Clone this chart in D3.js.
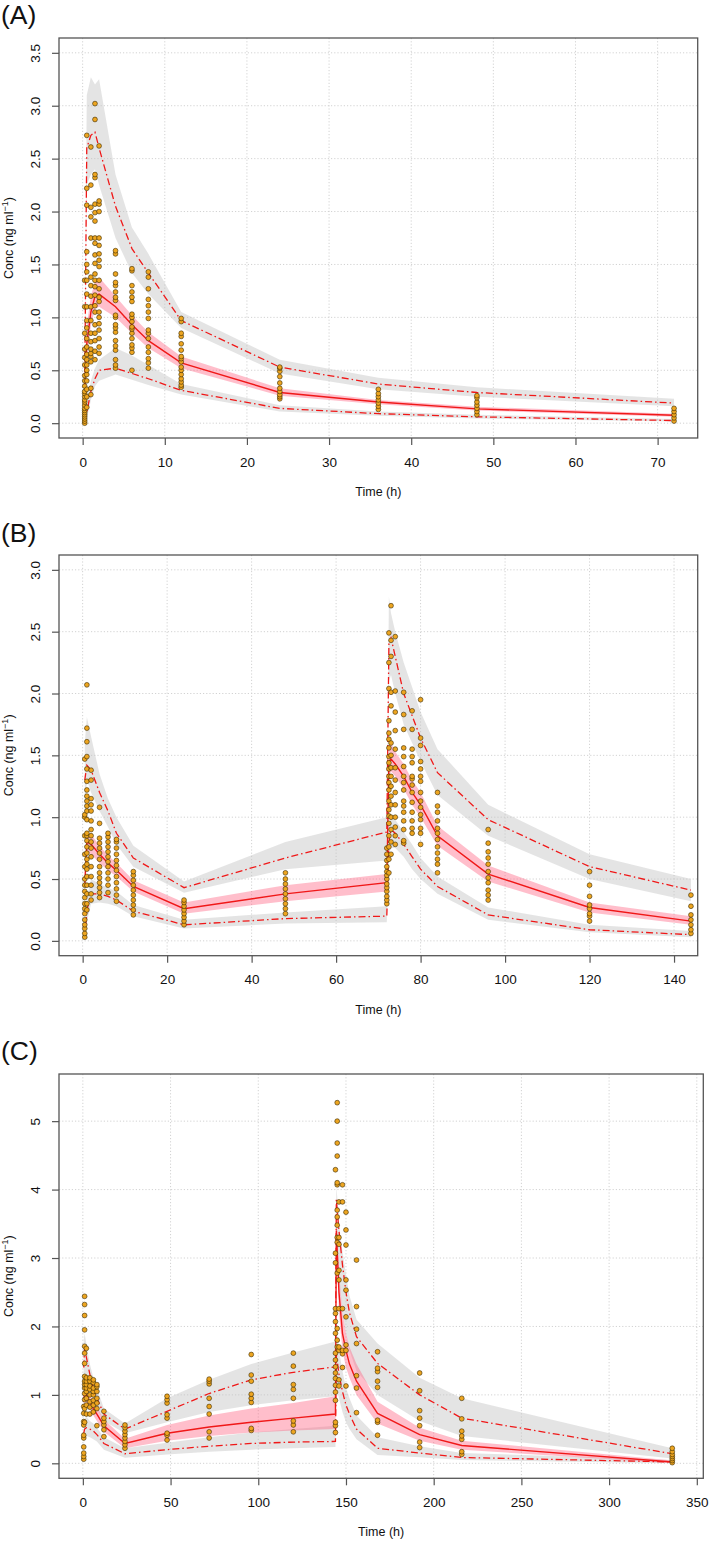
<!DOCTYPE html>
<html><head><meta charset="utf-8">
<script src="https://cdn.jsdelivr.net/npm/d3@7"></script>
<style>body{margin:0;background:#fff}svg{display:block}</style>
</head><body>
<script>
// ---------- Panel A data ----------
const tA = [0.25,0.5,1,1.5,2,4,6,8,12,24,36,48,72];
const medA    = [0.35,0.75,1.05,1.2,1.22,1.1,0.93,0.78,0.57,0.29,0.2,0.135,0.075];
const medA_lo = [0.22,0.58,0.92,1.08,1.1,1.0,0.85,0.71,0.52,0.26,0.18,0.12,0.06];
const medA_hi = [0.5,0.92,1.2,1.34,1.38,1.2,1.02,0.86,0.63,0.33,0.22,0.155,0.09];
const p95A    = [0.35,2.6,2.72,2.75,2.6,2.05,1.65,1.42,0.97,0.53,0.37,0.29,0.19];
const p95A_lo = [0.25,2.25,2.35,2.4,2.25,1.75,1.42,1.22,0.9,0.47,0.32,0.25,0.16];
const p95A_hi = [0.6,3.1,3.27,3.2,3.25,2.35,1.85,1.6,1.05,0.6,0.43,0.34,0.23];
const p05A    = [0.02,0.1,0.3,0.42,0.5,0.52,0.47,0.42,0.31,0.14,0.09,0.06,0.025];
const p05A_lo = [0.0,0.04,0.22,0.35,0.4,0.46,0.41,0.36,0.27,0.11,0.07,0.045,0.015];
const p05A_hi = [0.06,0.2,0.4,0.52,0.6,0.71,0.64,0.55,0.37,0.17,0.11,0.08,0.04];
const obsTimesA = [0.25,0.5,1,1.5,2,4,6,8,12,24,36,48,72];
const obsA = [
 [0.0,0.02,0.04,0.06,0.08,0.1,0.12,0.14,0.17,0.2,0.22,0.25,0.28,0.3,0.35,0.4,0.45,0.55,0.62,0.7,0.85,1.1,1.35],
 [0.15,0.25,0.32,0.4,0.46,0.5,0.55,0.6,0.65,0.72,0.8,0.9,0.97,1.1,1.22,1.35,1.43,1.5,1.62,2.06,2.22,2.72],
 [0.27,0.33,0.58,0.63,0.66,0.7,0.77,0.85,0.97,1.1,1.2,1.3,1.38,1.75,1.95,2.04,2.25,2.61],
 [0.6,0.68,0.78,0.85,0.93,1.05,1.11,1.21,1.29,1.35,1.41,1.51,1.59,1.7,1.75,1.91,1.99,2.07,2.32,2.35,2.87,3.02],
 [0.66,0.72,0.8,0.88,0.94,1.0,1.05,1.15,1.19,1.27,1.35,1.48,1.54,1.6,1.68,1.75,2.0,2.07,2.1,2.62],
 [0.52,0.55,0.6,0.69,0.73,0.78,0.86,0.9,0.93,1.0,1.02,1.16,1.19,1.24,1.3,1.33,1.41,1.6,1.63],
 [0.5,0.67,0.71,0.74,0.8,0.85,0.89,0.91,0.96,1.0,1.03,1.15,1.19,1.24,1.3,1.44,1.46],
 [0.52,0.57,0.61,0.67,0.72,0.8,0.85,0.88,0.99,1.05,1.11,1.17,1.27,1.38,1.43],
 [0.34,0.36,0.39,0.42,0.46,0.5,0.53,0.58,0.61,0.63,0.69,0.75,0.82,0.85,0.96,0.99],
 [0.23,0.25,0.27,0.3,0.33,0.38,0.44,0.49,0.52,0.53],
 [0.13,0.16,0.19,0.22,0.25,0.28,0.32],
 [0.08,0.11,0.14,0.17,0.2,0.24,0.26],
 [0.02,0.05,0.08,0.11,0.14]
];
const xTicksA = [0,10,20,30,40,50,60,70];
const yTicksA = [0,0.5,1,1.5,2,2.5,3,3.5];

// ---------- Panel B data ----------
const tB = [0.5,1,2,4,6,8,12,24,48,72,72.5,73,74,76,78,80,84,96,120,144];
const medB    = [0.45,0.8,0.78,0.7,0.63,0.57,0.44,0.26,0.38,0.47,1.45,1.47,1.43,1.33,1.2,1.1,0.85,0.54,0.27,0.16];
const medB_lo = [0.35,0.72,0.7,0.63,0.57,0.52,0.4,0.22,0.32,0.4,1.32,1.37,1.33,1.23,1.1,1.0,0.77,0.48,0.23,0.13];
const medB_hi = [0.55,0.88,0.86,0.77,0.69,0.63,0.49,0.31,0.45,0.54,1.58,1.6,1.53,1.43,1.3,1.2,0.93,0.61,0.31,0.2];
const p95B    = [1.3,1.42,1.38,1.2,1.05,0.87,0.67,0.43,0.67,0.88,2.4,2.45,2.3,2.0,1.82,1.64,1.36,0.98,0.6,0.41];
const p95B_lo = [1.0,1.3,1.2,1.05,0.92,0.78,0.6,0.39,0.58,0.65,2.1,2.15,2.0,1.75,1.6,1.45,1.18,0.85,0.5,0.32];
const p95B_hi = [1.6,1.81,1.65,1.35,1.15,1.0,0.77,0.48,0.8,1.0,2.78,2.65,2.5,2.25,2.05,1.85,1.55,1.1,0.7,0.5];
const p05B    = [0.02,0.25,0.38,0.38,0.36,0.33,0.24,0.13,0.18,0.2,0.8,0.9,0.87,0.78,0.68,0.58,0.44,0.21,0.09,0.05];
const p05B_lo = [0.0,0.15,0.3,0.31,0.3,0.28,0.2,0.1,0.14,0.15,0.7,0.75,0.75,0.68,0.58,0.5,0.38,0.17,0.07,0.03];
const p05B_hi = [0.1,0.35,0.5,0.46,0.43,0.4,0.29,0.17,0.23,0.28,0.95,1.0,0.98,0.88,0.78,0.67,0.52,0.27,0.13,0.08];
const obsTimesB = [0.5,1,2,4,6,8,12,24,48,72,72.5,73,74,76,78,80,84,96,120,144];
const obsB = [
 [0.03,0.06,0.1,0.13,0.17,0.22,0.26,0.3,0.35,0.4,0.45,0.5,0.6,0.7,0.85,1.0,1.02,1.47],
 [0.25,0.3,0.38,0.45,0.52,0.58,0.62,0.66,0.71,0.76,0.81,0.85,0.87,0.98,1.05,1.09,1.13,1.17,1.22,1.29,1.39,1.49,1.61,1.72,2.07],
 [0.33,0.38,0.45,0.52,0.6,0.68,0.75,0.8,0.85,0.9,0.97,1.05,1.1,1.15,1.3,1.38],
 [0.35,0.39,0.43,0.47,0.51,0.55,0.6,0.66,0.71,0.75,0.79,0.83,0.95,1.08],
 [0.39,0.45,0.5,0.55,0.6,0.64,0.68,0.72,0.76,0.8,0.84,0.87],
 [0.32,0.37,0.42,0.47,0.52,0.57,0.61,0.65,0.7,0.75,0.8,0.82],
 [0.21,0.25,0.29,0.33,0.37,0.41,0.45,0.49,0.53,0.56],
 [0.13,0.16,0.19,0.22,0.25,0.28,0.31,0.33],
 [0.22,0.26,0.3,0.34,0.38,0.42,0.46,0.5,0.55],
 [0.3,0.33,0.36,0.4,0.43,0.46,0.5,0.53,0.56,0.6,0.65,0.7,0.75],
 [0.55,0.66,0.76,0.85,0.95,1.01,1.06,1.13,1.22,1.28,1.33,1.39,1.44,1.49,1.56,1.63,1.68,1.78,2.04,2.25,2.49],
 [0.7,0.8,0.9,1.0,1.1,1.17,1.25,1.33,1.4,1.5,1.6,1.9,2.01,2.3,2.43,2.71],
 [0.78,0.85,0.92,1.0,1.1,1.2,1.3,1.4,1.55,1.7,1.85,2.02,2.46],
 [0.79,0.81,0.9,0.97,1.04,1.09,1.13,1.22,1.28,1.33,1.41,1.49,1.56,1.71,1.83,2.01],
 [0.87,0.91,0.97,1.04,1.12,1.2,1.26,1.31,1.33,1.44,1.49,1.55,1.71,1.86],
 [0.78,0.87,0.91,0.98,1.02,1.08,1.13,1.2,1.29,1.33,1.39,1.45,1.58,1.64,1.95],
 [0.55,0.62,0.66,0.71,0.76,0.82,0.87,0.91,0.97,1.04,1.09,1.2],
 [0.33,0.37,0.41,0.47,0.51,0.56,0.62,0.67,0.72,0.79,0.9],
 [0.16,0.2,0.22,0.26,0.29,0.36,0.45,0.56],
 [0.06,0.09,0.13,0.17,0.21,0.28,0.37]
];
const xTicksB = [0,20,40,60,80,100,120,140];
const yTicksB = [0,0.5,1,1.5,2,2.5,3];

// ---------- Panel C data ----------
const tC = [0.5,1,2,4,6,8,12,24,48,72,96,120,144,144.5,145,146,148,150,152,156,168,192,216,336];
const medC    = [0.9,1.05,1.0,0.9,0.8,0.72,0.55,0.29,0.44,0.53,0.6,0.66,0.72,3.4,3.1,2.5,1.9,1.65,1.45,1.2,0.73,0.42,0.26,0.02];
const medC_lo = [0.75,0.9,0.88,0.78,0.7,0.62,0.46,0.22,0.33,0.4,0.45,0.48,0.5,3.1,2.85,2.2,1.65,1.4,1.25,1.0,0.58,0.33,0.2,0.0];
const medC_hi = [1.05,1.2,1.12,1.0,0.9,0.82,0.64,0.36,0.56,0.7,0.8,0.88,0.98,3.7,3.4,2.8,2.2,1.9,1.7,1.45,0.9,0.52,0.33,0.04];
const p95C    = [1.4,1.7,1.55,1.3,1.1,0.95,0.72,0.5,0.76,1.02,1.22,1.33,1.41,3.85,3.7,3.4,2.9,2.5,2.2,1.85,1.46,1.0,0.66,0.14];
const p95C_lo = [1.1,1.3,1.25,1.05,0.9,0.8,0.62,0.44,0.6,0.75,0.85,0.92,0.98,3.4,3.2,2.7,2.2,1.9,1.65,1.35,1.0,0.62,0.4,0.07];
const p95C_hi = [1.8,1.9,1.75,1.45,1.25,1.1,0.8,0.58,0.95,1.22,1.45,1.62,1.78,4.05,3.9,3.5,3.1,2.75,2.45,2.1,1.75,1.25,0.95,0.22];
const p05C    = [0.44,0.5,0.52,0.5,0.47,0.42,0.29,0.14,0.2,0.25,0.29,0.31,0.32,1.6,1.5,1.3,1.05,0.85,0.72,0.5,0.22,0.15,0.085,0.02];
const p05C_lo = [0.25,0.35,0.4,0.38,0.35,0.32,0.2,0.08,0.13,0.17,0.2,0.22,0.24,1.2,1.1,0.95,0.75,0.6,0.5,0.35,0.12,0.09,0.05,0.0];
const p05C_hi = [0.6,0.65,0.68,0.62,0.58,0.52,0.38,0.22,0.3,0.38,0.45,0.5,0.55,2.0,1.9,1.65,1.35,1.1,0.95,0.7,0.38,0.25,0.15,0.05];
const obsTimesC = [0.5,1,2,4,6,8,12,24,48,72,96,120,144,145,146,148,150,156,168,192,216,336];
const obsC = [
 [0.06,0.1,0.15,0.24,0.37,0.41,0.56,0.61,0.73,0.83],
 [0.6,0.8,0.93,1.02,1.1,1.15,1.2,1.27,1.46,1.61,1.71,1.95,2.16,2.32,2.44],
 [0.72,0.85,0.95,1.05,1.1,1.15,1.2,1.25,1.68],
 [0.72,0.82,0.9,1.0,1.08,1.13,1.2,1.25],
 [0.75,0.85,0.92,1.0,1.05,1.1,1.18,1.22],
 [0.55,0.8,0.88,0.95,1.05,1.12,1.15],
 [0.39,0.49,0.56,0.61,0.66,0.76],
 [0.22,0.27,0.32,0.37,0.42,0.47,0.52,0.56],
 [0.34,0.41,0.44,0.66,0.71,0.88,0.93,0.98],
 [0.37,0.46,0.72,0.83,0.95,1.16,1.2,1.23],
 [0.48,0.51,0.89,0.95,1.01,1.2,1.29,1.59],
 [0.46,0.56,0.62,0.95,1.08,1.15,1.42,1.61],
 [0.45,0.55,0.6,0.92,1.04,1.14,1.24,1.32,1.41,1.51,1.61,1.9,2.07,2.19,2.26,2.93,3.07,4.29],
 [1.7,1.8,1.97,2.78,3.23,3.3,3.48,3.6,3.7,4.07,4.1,4.49,4.68,5.0,5.27],
 [1.13,1.22,1.65,1.7,2.26,2.68,2.82,3.2,3.3,3.82],
 [1.4,1.6,1.65,2.26,3.82,4.07],
 [1.13,1.65,1.73,2.14,2.53,2.68,3.19,3.41,3.67],
 [0.74,1.1,1.28,1.75,1.96,2.29,2.97],
 [0.41,0.6,0.63,1.11,1.2,1.34,1.39,1.63],
 [0.23,0.31,0.55,0.66,0.77,1.06,1.32],
 [0.13,0.17,0.35,0.4,0.47,0.65,0.95],
 [0.01,0.04,0.07,0.1,0.13,0.17,0.22]
];
const xTicksC = [0,50,100,150,200,250,300,350];
const yTicksC = [0,1,2,3,4,5];

// ---------- drawing ----------
const W = 709, H = 1541;
const FONT = "'Liberation Sans', Arial, Helvetica, sans-serif";
const svg = d3.select("body").append("svg").attr("width", W).attr("height", H)
  .style("font-family", FONT);

const panels = [
  {id:"A", label:"(A)", labelY:24, box:[59,697.7,38,438], xdom:[-2.88,74.88], ydom:[-0.14,3.64],
   t:tA, med:medA, medLo:medA_lo, medHi:medA_hi, p95:p95A, p95Lo:p95A_lo, p95Hi:p95A_hi,
   p05:p05A, p05Lo:p05A_lo, p05Hi:p05A_hi, obsT:obsTimesA, obs:obsA, xt:xTicksA, yt:yTicksA, yfmt:d3.format(".1f")},
  {id:"B", label:"(B)", labelY:541.5, box:[59,697.7,555,955.7], xdom:[-5.6,145.6], ydom:[-0.12,3.12],
   t:tB, med:medB, medLo:medB_lo, medHi:medB_hi, p95:p95B, p95Lo:p95B_lo, p95Hi:p95B_hi,
   p05:p05B, p05Lo:p05B_lo, p05Hi:p05B_hi, obsT:obsTimesB, obs:obsB, xt:xTicksB, yt:yTicksB, yfmt:d3.format(".1f")},
  {id:"C", label:"(C)", labelY:1059.5, box:[59,703.3,1074,1478.3], xdom:[-13.6,353.7], ydom:[-0.219,5.689],
   t:tC, med:medC, medLo:medC_lo, medHi:medC_hi, p95:p95C, p95Lo:p95C_lo, p95Hi:p95C_hi,
   p05:p05C, p05Lo:p05C_lo, p05Hi:p05C_hi, obsT:obsTimesC, obs:obsC, xt:xTicksC, yt:yTicksC, yfmt:d3.format("d")}
];

panels.forEach(p => {
  const [L, R, T, B] = p.box;
  const x = d3.scaleLinear().domain(p.xdom).range([L, R]);
  const y = d3.scaleLinear().domain(p.ydom).range([B, T]);
  const g = svg.append("g");

  g.append("clipPath").attr("id", "clip" + p.id)
    .append("rect").attr("x", L).attr("y", T).attr("width", R - L).attr("height", B - T);

  // grid
  const grid = g.append("g").attr("stroke", "#d2d2d2").attr("stroke-width", 1).attr("stroke-dasharray", "1.2,2");
  p.xt.forEach(v => grid.append("line").attr("x1", x(v)).attr("x2", x(v)).attr("y1", T).attr("y2", B));
  p.yt.forEach(v => grid.append("line").attr("x1", L).attr("x2", R).attr("y1", y(v)).attr("y2", y(v)));

  const inner = g.append("g").attr("clip-path", `url(#clip${p.id})`);

  const band = (lo, hi) => d3.area().x((d, i) => x(p.t[i])).y0((d, i) => y(lo[i])).y1((d, i) => y(hi[i]))(p.t);
  const line = (vals) => d3.line().x((d, i) => x(p.t[i])).y((d, i) => y(vals[i]))(p.t);

  inner.append("path").attr("d", band(p.p95Lo, p.p95Hi)).attr("fill", "rgb(195,195,195)").attr("fill-opacity", 0.45);
  inner.append("path").attr("d", band(p.p05Lo, p.p05Hi)).attr("fill", "rgb(195,195,195)").attr("fill-opacity", 0.45);
  inner.append("path").attr("d", band(p.medLo, p.medHi)).attr("fill", "rgb(255,100,130)").attr("fill-opacity", 0.42);

  inner.append("path").attr("d", line(p.med)).attr("fill", "none").attr("stroke", "#f01818").attr("stroke-width", 1.4);
  [p.p95, p.p05].forEach(v => inner.append("path").attr("d", line(v)).attr("fill", "none")
    .attr("stroke", "#f01818").attr("stroke-width", 1.3).attr("stroke-dasharray", "7,3,1.5,3"));

  // observations
  const pts = [];
  p.obsT.forEach((t, i) => p.obs[i].forEach(v => pts.push([t, v])));
  g.append("g").selectAll("circle").data(pts).join("circle")
    .attr("cx", d => x(d[0])).attr("cy", d => y(d[1])).attr("r", 2.4)
    .attr("fill", "#eda520").attr("stroke", "#3a2a00").attr("stroke-width", 0.6);

  // box
  g.append("rect").attr("x", L).attr("y", T).attr("width", R - L).attr("height", B - T)
    .attr("fill", "none").attr("stroke", "#555").attr("stroke-width", 1.3);

  // x axis
  const xa = g.append("g").attr("transform", `translate(0,${B})`)
    .call(d3.axisBottom(x).tickValues(p.xt).tickSize(7).tickPadding(12).tickFormat(d3.format("d")));
  xa.select(".domain").remove();
  xa.selectAll("line").attr("stroke", "#555").attr("stroke-width", 1.2);
  xa.selectAll("text").attr("fill", "#111").style("font-size", "13.5px").style("font-family", FONT);

  // y axis
  const ya = g.append("g").attr("transform", `translate(${L},0)`)
    .call(d3.axisLeft(y).tickValues(p.yt).tickSize(7).tickFormat(p.yfmt));
  ya.select(".domain").remove();
  ya.selectAll("line").attr("stroke", "#555").attr("stroke-width", 1.2);
  ya.selectAll("text").attr("x", 0).attr("y", -19).attr("dy", 0).attr("transform", "rotate(-90)")
    .attr("text-anchor", "middle").attr("fill", "#111").style("font-size", "13.5px").style("font-family", FONT);

  // axis titles
  g.append("text").attr("x", (L + R) / 2).attr("y", B + 58).attr("text-anchor", "middle")
    .style("font-size", "12.5px").attr("fill", "#111").text("Time (h)");
  const yl = g.append("text").attr("transform", `translate(13,${(T + B) / 2}) rotate(-90)`)
    .attr("text-anchor", "middle").style("font-size", "12.5px").attr("fill", "#111");
  yl.append("tspan").text("Conc (ng ml");
  yl.append("tspan").attr("dy", -5).style("font-size", "9px").text("\u22121");
  yl.append("tspan").attr("dy", 5).text(")");

  // panel label
  g.append("text").attr("x", 1).attr("y", p.labelY).style("font-size", "26.5px").attr("fill", "#111").text(p.label);
});
</script>
</body></html>
